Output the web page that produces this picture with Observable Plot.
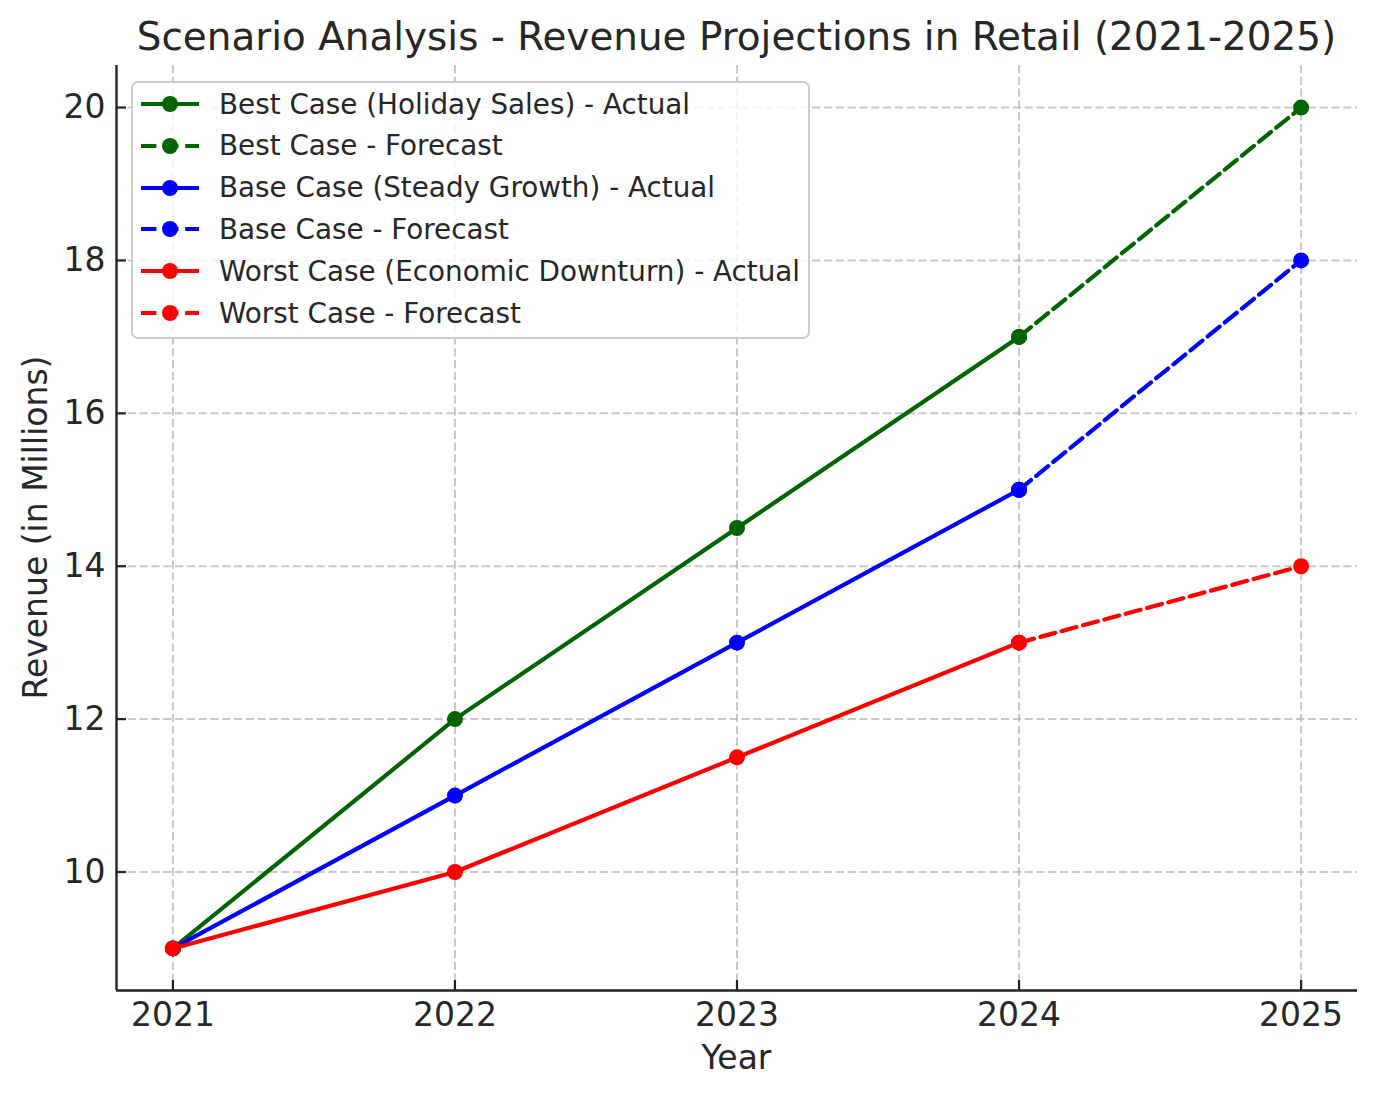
<!DOCTYPE html>
<html>
<head>
<meta charset="utf-8">
<script src="https://cdn.jsdelivr.net/npm/d3@7"></script>
<script src="https://cdn.jsdelivr.net/npm/@observablehq/plot@0.6"></script>
<style>
  body { margin: 0; background: #fff; font-family: "DejaVu Sans", sans-serif; }
  #wrap { position: relative; width: 1376px; height: 1097px; }
  #chart { position: absolute; left: 0; top: 0; }
  .lbl { position: absolute; color: #262626; white-space: nowrap; }
  #title { left: 116px; width: 1241px; top: 17px; text-align: center; font-size: 38.9px; line-height: 39px; }
  #xlabel { left: 116px; width: 1241px; top: 1041px; text-align: center; font-size: 33px; line-height: 33px; }
  #ylabel { left: -265px; width: 600px; top: 511px; text-align: center; font-size: 33px; line-height: 33px; transform: rotate(-90deg); transform-origin: 50% 50%; }
  #legend { position: absolute; left: 131px; top: 81px; width: 675px; height: 254px; border: 2px solid #cccccc; border-radius: 7px; background: rgba(255,255,255,0.8); }
  .row { position: absolute; left: 0; height: 40px; display: flex; align-items: center; }
  .row svg { margin-left: 6px; }
  .row span { margin-left: 20px; font-size: 27.8px; color: #262626; white-space: nowrap; }
</style>
</head>
<body>
<div id="wrap">
  <div id="chart"></div>
  <div id="title" class="lbl"></div>
  <div id="xlabel" class="lbl"></div>
  <div id="ylabel" class="lbl"></div>
  <div id="legend"></div>
</div>
<script>
// ---- data ----
const titleText = "Scenario Analysis - Revenue Projections in Retail (2021-2025)";
const xLabel = "Year";
const yLabel = "Revenue (in Millions)";
const actualYears = [2021, 2022, 2023, 2024];
const forecastYears = [2024, 2025];
const xTicks = [2021, 2022, 2023, 2024, 2025];
const yTicks = [10, 12, 14, 16, 18, 20];
const bestActual = [9, 12, 14.5, 17];
const bestForecast = [17, 20];
const baseActual = [9, 11, 13, 15];
const baseForecast = [15, 18];
const worstActual = [9, 10, 11.5, 13];
const worstForecast = [13, 14];
const seriesLabels = [
  "Best Case (Holiday Sales) - Actual",
  "Best Case - Forecast",
  "Base Case (Steady Growth) - Actual",
  "Base Case - Forecast",
  "Worst Case (Economic Downturn) - Actual",
  "Worst Case - Forecast"
];
const seriesColors = ["#006400", "#006400", "#0000ff", "#0000ff", "#ff0000", "#ff0000"];
const seriesDashed = [false, true, false, true, false, true];

const seriesValues = [bestActual, bestForecast, baseActual, baseForecast, worstActual, worstForecast];
const seriesYears = [actualYears, forecastYears, actualYears, forecastYears, actualYears, forecastYears];

const DASH = "15.4,6.7";
const LW = 4.2;
const R = 8;

const series = seriesValues.map((vals, i) => ({
  label: seriesLabels[i],
  color: seriesColors[i],
  dashed: seriesDashed[i],
  data: vals.map((v, j) => ({year: seriesYears[i][j], value: v}))
}));

const xDomain = [2020.8, 2025.2];
const yDomain = [8.45, 20.55];

const marks = [
  Plot.gridX(xTicks, {stroke: "#b0b0b0", strokeOpacity: 0.7, strokeWidth: 2, strokeDasharray: "8.2,3.6"}),
  Plot.gridY(yTicks, {stroke: "#b0b0b0", strokeOpacity: 0.7, strokeWidth: 2, strokeDasharray: "8.2,3.6"})
];
for (const s of series) {
  marks.push(Plot.line(s.data, {x: "year", y: "value", stroke: s.color, strokeWidth: LW, strokeDasharray: s.dashed ? DASH : null}));
  marks.push(Plot.dot(s.data, {x: "year", y: "value", fill: s.color, r: R}));
}
marks.push(
  Plot.ruleX([xDomain[0]], {stroke: "#222", strokeWidth: 2.4}),
  Plot.ruleY([yDomain[0]], {stroke: "#222", strokeWidth: 2.4}),
  Plot.axisX(xTicks, {tickSize: -10, tickPadding: 22, strokeWidth: 2.2, stroke: "#222", fill: "#262626", fontSize: 33, tickFormat: d => String(d), label: null}),
  Plot.axisY(yTicks, {tickSize: -10, tickPadding: 21, strokeWidth: 2.2, stroke: "#222", fill: "#262626", fontSize: 33, tickFormat: d => String(d), label: null})
);

const chart = Plot.plot({
  width: 1376,
  height: 1097,
  marginLeft: 116,
  marginRight: 19,
  marginTop: 65,
  marginBottom: 107,
  style: {fontFamily: "DejaVu Sans", fontSize: "33px", background: "white", color: "#262626"},
  x: {domain: xDomain, label: null},
  y: {domain: yDomain, label: null},
  marks
});
document.getElementById("chart").appendChild(chart);

document.getElementById("title").textContent = titleText;
document.getElementById("xlabel").textContent = xLabel;
document.getElementById("ylabel").textContent = yLabel;

// legend
const legend = document.getElementById("legend");
series.forEach((s, i) => {
  const row = document.createElement("div");
  row.className = "row";
  row.style.top = (104 - 83 - 20 + i * 41.8) + "px";
  const ns = "http://www.w3.org/2000/svg";
  const svg = document.createElementNS(ns, "svg");
  svg.setAttribute("width", 60);
  svg.setAttribute("height", 24);
  const line = document.createElementNS(ns, "line");
  line.setAttribute("x1", 2); line.setAttribute("x2", 60);
  line.setAttribute("y1", 12); line.setAttribute("y2", 12);
  line.setAttribute("stroke", s.color);
  line.setAttribute("stroke-width", LW);
  if (s.dashed) line.setAttribute("stroke-dasharray", DASH);
  const c = document.createElementNS(ns, "circle");
  c.setAttribute("cx", 31); c.setAttribute("cy", 12); c.setAttribute("r", R);
  c.setAttribute("fill", s.color);
  svg.appendChild(line); svg.appendChild(c);
  const span = document.createElement("span");
  span.textContent = s.label;
  row.appendChild(svg); row.appendChild(span);
  legend.appendChild(row);
});
</script>
</body>
</html>
